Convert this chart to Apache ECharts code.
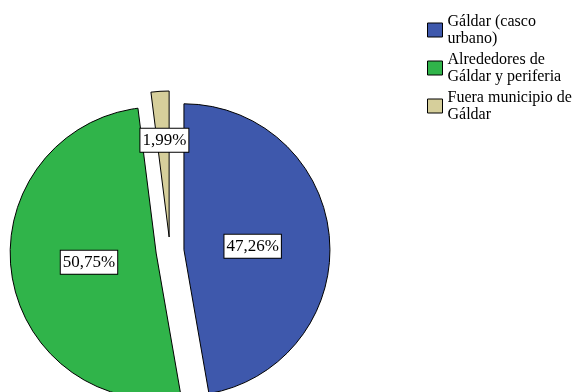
<!DOCTYPE html>
<html>
<head>
<meta charset="utf-8">
<script src="https://cdn.jsdelivr.net/npm/echarts@6/dist/echarts.min.js"></script>
<style>
  html, body { margin: 0; padding: 0; background: #fff; }
  #chart { width: 574px; height: 392px; }
</style>
</head>
<body>
<div id="chart"></div>
<script>
// Lugar de residencia (%)
const categories = ['Gáldar (casco urbano)', 'Alrededores de Gáldar y periferia', 'Fuera municipio de Gáldar'];
const legendLines = ['Gáldar (casco\nurbano)', 'Alrededores de\nGáldar y periferia', 'Fuera municipio de\nGáldar'];
const values = [47.26, 50.75, 1.99];
const colors = ['#3E58AC', '#30B44A', '#D6CF9B'];

const FONT = '"Liberation Serif", "Times New Roman", serif';

// small nudges of the value boxes away from the mid-radius point
const labelShift = [[-7, 3], [8, -2], [0, -21]];

const chart = echarts.init(document.getElementById('chart'), null, { renderer: 'canvas' });

chart.setOption({
  animation: false,
  backgroundColor: '#ffffff',
  legend: {
    orient: 'vertical',
    left: 427,
    top: 13,
    padding: 0,
    itemWidth: 15,
    itemHeight: 14,
    itemGap: 4,
    icon: 'rect',
    selectedMode: false,
    data: categories,
    formatter: function (name) {
      return legendLines[categories.indexOf(name)];
    },
    itemStyle: { borderColor: '#000', borderWidth: 1 },
    textStyle: { fontFamily: FONT, fontSize: 16, lineHeight: 17, color: '#000' }
  },
  series: [{
    type: 'pie',
    center: [170, 251],
    radius: 146,
    startAngle: 90,
    clockwise: true,
    selectedMode: 'multiple',
    selectedOffset: 14,
    emphasis: { disabled: true },
    itemStyle: { borderColor: '#000', borderWidth: 1 },
    select: { itemStyle: { borderColor: '#000', borderWidth: 1 } },
    label: {
      position: 'inside',
      fontFamily: FONT,
      fontSize: 17,
      lineHeight: 17,
      color: '#000',
      backgroundColor: '#fff',
      borderColor: '#000',
      borderWidth: 1,
      padding: [3, 2, 3, 2],
      formatter: function (p) {
        return p.value.toFixed(2).replace('.', ',') + '%';
      }
    },
    labelLine: { show: false },
    labelLayout: function (params) {
      const s = labelShift[params.dataIndex];
      return { dx: s[0], dy: s[1] };
    },
    data: categories.map(function (name, i) {
      return { name: name, value: values[i], selected: true, itemStyle: { color: colors[i] } };
    })
  }]
});
</script>
</body>
</html>
